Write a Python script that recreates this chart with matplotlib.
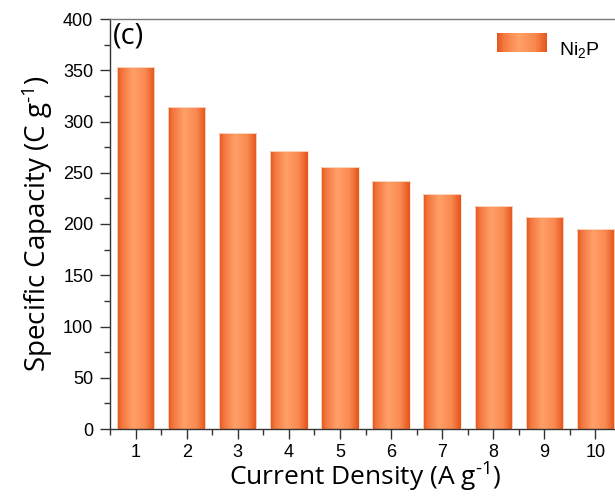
import numpy as np
import matplotlib
matplotlib.use('Agg')
import matplotlib.pyplot as plt
from matplotlib.colors import LinearSegmentedColormap
from matplotlib.patches import Rectangle
from matplotlib.legend_handler import HandlerBase
from matplotlib.ticker import MultipleLocator

# data
current_density = [1, 2, 3, 4, 5, 6, 7, 8, 9, 10]
capacity = [353, 314, 289, 271, 256, 242, 229, 218, 206.5, 195]
series_name = 'Ni$_\\mathregular{2}$P'

plt.rcParams['mathtext.fontset'] = 'custom'
plt.rcParams['mathtext.rm'] = 'Open Sans'
plt.rcParams['mathtext.it'] = 'Open Sans'

# orange gradient across each bar: dark edges, light centre
grad = LinearSegmentedColormap.from_list('bar', [
    (0.0, '#e4521a'), (0.12, '#f2753c'), (0.42, '#ffa068'),
    (0.75, '#f98a50'), (1.0, '#e4521a')])

class GradHandler(HandlerBase):
    def create_artists(self, legend, orig, xd, yd, w, h, fs, trans):
        n = 40
        out = []
        for i in range(n):
            r = Rectangle((xd + w * i / n, yd), w / n * 1.05, h,
                          facecolor=grad((i + 0.5) / n), edgecolor='none',
                          transform=trans)
            out.append(r)
        return out

fig = plt.figure(figsize=(6.15, 4.96), dpi=100)
ax = fig.add_axes([110 / 615, 67 / 496, 511 / 615, 410 / 496])

width = 0.73
gimg = np.linspace(0, 1, 256).reshape(1, -1)
bars = ax.bar(current_density, capacity, width=width, color='none',
              edgecolor='#fde3d2', linewidth=0.6, zorder=3)
for b in bars:
    x0, y0 = b.get_x(), b.get_y()
    im = ax.imshow(gimg, cmap=grad, aspect='auto', interpolation='bicubic',
                   extent=[x0, x0 + b.get_width(), y0, y0 + b.get_height()],
                   zorder=2)
    im.set_clip_path(b)

ax.set_xlim(0.5, 10.5)
ax.set_ylim(0, 400)
ax.set_xticks(current_density)
ax.xaxis.set_minor_locator(MultipleLocator(0.5))
ax.yaxis.set_major_locator(MultipleLocator(50))
ax.yaxis.set_minor_locator(MultipleLocator(25))

for s in ax.spines.values():
    s.set_color('#333333')
    s.set_linewidth(1.0)
ax.spines['top'].set_color('#777777')

ax.tick_params(which='major', direction='out', length=7, width=1.0,
               color='#333333', labelsize=13, pad=5)
ax.tick_params(axis='x', which='major', pad=4)
ax.tick_params(which='minor', direction='out', length=4, width=1.0,
               color='#333333')
for lab in ax.get_xticklabels() + ax.get_yticklabels():
    lab.set_family('Liberation Sans')

ax.set_xlabel('Current Density (A g$^{\\text{-1}}$)', family='Open Sans',
              fontsize=19, labelpad=0)
ax.set_ylabel('Specific Capacity (C g$^{\\text{-1}}$)', family='Open Sans',
              fontsize=20, labelpad=6)

ax.text(0.006, 0.995, '(c)', transform=ax.transAxes, family='Open Sans',
        fontsize=21, va='top', ha='left')

proxy = Rectangle((0, 0), 1, 1)
leg = ax.legend([proxy], [series_name], handler_map={Rectangle: GradHandler()},
                loc='upper left', bbox_to_anchor=(0.719, 1.0),
                frameon=False, handlelength=2.6, handleheight=1.13,
                handletextpad=0.6, borderaxespad=0.6,
                prop={'family': 'Liberation Sans', 'size': 14})

fig.savefig('out.png', dpi=100)
